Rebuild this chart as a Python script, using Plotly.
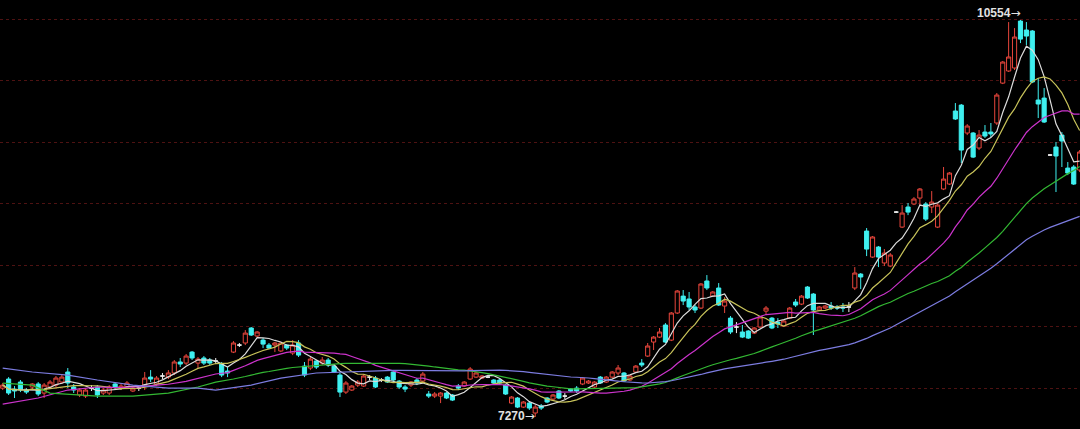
import plotly.graph_objects as go
import pandas as pd

opens = [7509,7584,7501,7559,7493,7518,7543,7468,7518,7534,7559,7642,7518,7452,7443,7509,7518,7468,7468,7543,
         7509,7518,7485,7509,7534,7600,7543,7609,7600,7634,7725,7716,7807,7716,7758,7741,7733,7708,7650,7807,
         7865,7882,8006,7940,7906,7865,7865,7816,7865,7799,7882,7691,7675,7733,7716,7741,7691,7617,7476,7493,
         7534,7526,7600,7592,7576,7600,7642,7567,7518,7534,7576,7567,7460,7443,7443,7468,7452,7526,7526,7584,
         7600,7592,7600,7576,7576,7534,7385,7427,7352,7385,7303,7361,7427,7418,7485,7443,7501,7509,7543,7551,
         7518,7600,7559,7600,7634,7634,7576,7642,7716,7774,7890,7931,8031,7906,8130,8270,8246,8180,8171,8395,
         8270,8337,8188,8088,8014,7973,7981,7964,8014,8146,8088,8055,8022,8088,8221,8204,8345,8287,8155,8171,
         8188,8180,8180,8180,8337,8452,8808,8593,8676,8544,8519,8965,8841,9007,9032,9081,9032,9007,8841,9156,
         9197,9801,9850,9619,9619,9495,9627,9627,9702,10032,10132,10157,10545,10471,10463,9892,9908,9437,9503,9602,
         9329,9338,9313]
highs = [7551,7600,7526,7576,7509,7551,7559,7551,7576,7609,7625,7675,7543,7509,7509,7534,7534,7509,7534,7551,
         7543,7567,7518,7526,7642,7658,7609,7634,7658,7741,7758,7791,7816,7766,7774,7758,7758,7725,7683,7898,
         7882,7989,8014,7981,7923,7882,7890,7890,7873,7906,7906,7725,7766,7741,7766,7758,7708,7634,7567,7534,
         7576,7625,7617,7609,7592,7609,7650,7576,7534,7567,7592,7642,7485,7476,7476,7476,7460,7543,7567,7683,
         7642,7617,7609,7584,7592,7543,7443,7435,7402,7394,7369,7377,7435,7460,7493,7468,7509,7526,7600,7576,
         7567,7609,7609,7650,7700,7642,7617,7700,7749,7882,7940,8006,8047,8138,8320,8320,8304,8196,8378,8444,
         8312,8378,8262,8105,8055,8031,7989,8014,8105,8188,8097,8088,8072,8180,8246,8279,8353,8295,8188,8196,
         8221,8196,8213,8221,8510,8461,8833,8767,8684,8659,8626,8974,9023,9040,9089,9164,9048,9139,9032,9338,
         9296,9867,9859,9693,9627,9644,9685,9702,9950,10215,10537,10487,10554,10537,10471,10074,9991,9445,9545,9627,
         9379,9354,9478]
lows = [7493,7452,7427,7476,7460,7501,7443,7427,7501,7518,7543,7509,7468,7435,7427,7485,7427,7452,7452,7501,
        7493,7501,7476,7485,7493,7559,7526,7584,7584,7617,7683,7700,7741,7675,7700,7700,7708,7600,7600,7799,
        7849,7865,7940,7931,7840,7832,7807,7807,7824,7782,7766,7600,7658,7667,7700,7683,7634,7435,7460,7485,
        7518,7518,7576,7509,7559,7551,7559,7501,7476,7518,7534,7559,7427,7427,7385,7418,7402,7493,7518,7576,
        7592,7584,7592,7543,7543,7452,7377,7344,7344,7328,7270,7328,7385,7410,7418,7418,7476,7468,7534,7543,
        7509,7543,7551,7592,7617,7559,7567,7634,7683,7766,7824,7923,7882,7898,8122,8196,8155,8130,8163,8320,
        8262,8188,8130,7956,7964,7923,7915,7956,8006,8113,7997,8006,8014,8080,8180,8196,8246,7948,8146,8163,
        8155,8155,8138,8138,8320,8328,8601,8585,8510,8519,8510,8957,8833,8940,9023,9023,8891,8957,8833,9147,
        9189,9727,9371,9602,9412,9478,9578,9586,9685,10024,10124,10140,10363,10347,10032,9743,9702,9429,9131,9338,
        9271,9189,9296]
closes = [7534,7468,7485,7493,7476,7543,7460,7534,7559,7592,7600,7551,7493,7493,7493,7509,7452,7493,7518,7518,
          7526,7551,7509,7509,7592,7584,7592,7609,7634,7725,7708,7774,7758,7749,7716,7716,7733,7617,7634,7882,
          7865,7964,7948,7973,7873,7840,7882,7882,7840,7865,7782,7617,7749,7683,7741,7700,7642,7476,7551,7526,
          7559,7609,7600,7518,7576,7559,7576,7518,7501,7559,7551,7625,7443,7460,7468,7427,7410,7509,7559,7667,
          7634,7609,7600,7551,7551,7460,7435,7352,7394,7344,7352,7344,7394,7452,7427,7443,7485,7485,7592,7567,
          7559,7551,7600,7642,7675,7567,7609,7691,7700,7857,7931,7973,7890,8130,8312,8229,8180,8155,8370,8337,
          8304,8196,8229,7973,8014,7931,7923,8006,8097,8171,8006,8039,8064,8171,8196,8270,8254,8155,8180,8188,
          8171,8171,8171,8180,8461,8428,8659,8759,8593,8626,8610,8965,8957,8965,9073,9156,8907,9048,9023,9238,
          9288,9735,9478,9677,9420,9602,9594,9611,9933,10206,10248,10413,10396,10421,10041,9859,9710,9437,9429,9553,
          9288,9197,9462]

# moving-average values read off the picture where the full window is not visible
ma20_head_idx = [0, 6, 11, 16]
ma20_head_val = [7377, 7427, 7493, 7518]
ma40_head_idx = [0, 5, 8, 16, 22, 28, 33, 36]
ma40_head_val = [7551, 7534, 7468, 7443, 7443, 7468, 7518, 7559]
ma60_head_idx = [0, 5, 11, 16, 22, 28, 33, 36, 42, 47, 53]
ma60_head_val = [7675, 7642, 7617, 7576, 7534, 7509, 7509, 7493, 7534, 7592, 7634]

ma_names = ["MA5", "MA10", "MA20", "MA40", "MA60"]
ma_colors = ["#dcdcdc", "#c8c35a", "#cc33cc", "#33b833", "#7c7ce0"]

RED = "#e8463c"
CYAN = "#3ff0f0"
DOJI = "#f0f0f0"

n = len(closes)
idx = list(range(n))
s = pd.Series(closes, dtype=float)


def sub(arr, sel):
    return [arr[i] for i in sel]


def candles(sel, inc_color, inc_fill, dec_color, dec_fill):
    return go.Candlestick(
        x=sel, open=sub(opens, sel), high=sub(highs, sel), low=sub(lows, sel), close=sub(closes, sel),
        increasing=dict(line=dict(color=inc_color, width=1), fillcolor=inc_fill),
        decreasing=dict(line=dict(color=dec_color, width=1), fillcolor=dec_fill),
        whiskerwidth=0, showlegend=False, hoverinfo="skip")


up = [i for i in idx if closes[i] > opens[i]]
dn = [i for i in idx if closes[i] < opens[i]]
dj = [i for i in idx if closes[i] == opens[i]]

fig = go.Figure()
fig.add_trace(candles(up, RED, "#000000", RED, "#000000"))
fig.add_trace(candles(dn, CYAN, CYAN, CYAN, CYAN))
fig.add_trace(candles(dj, DOJI, DOJI, DOJI, DOJI))

ma5 = s.rolling(5, min_periods=1).mean().tolist()
ma10 = s.rolling(10, min_periods=1).mean().tolist()


def ma_with_head(win, head_idx, head_val):
    full = s.rolling(win).mean().tolist()
    return head_idx + list(range(win - 1, n)), head_val + full[win - 1:]


lines = [(idx, ma5), (idx, ma10),
         ma_with_head(20, ma20_head_idx, ma20_head_val),
         ma_with_head(40, ma40_head_idx, ma40_head_val),
         ma_with_head(60, ma60_head_idx, ma60_head_val)]

for (xs, ys), name, col in zip(lines, ma_names, ma_colors):
    fig.add_trace(go.Scatter(x=xs, y=ys, mode="lines", name=name,
                             line=dict(color=col, width=1.2), hoverinfo="skip", showlegend=False))

# extreme labels
hi_i = max(idx, key=lambda i: highs[i])
lo_i = min(idx, key=lambda i: lows[i])
lab_font = dict(family="Arial, Liberation Sans, sans-serif", size=12, color="#e2e2e2")
ARROW = '<span style="font-family:DejaVu Sans;font-weight:normal">→</span>'
fig.add_annotation(x=hi_i, y=highs[hi_i], text=f"<b>{highs[hi_i]}</b>{ARROW}", showarrow=False,
                   xanchor="right", yanchor="middle", xshift=2, yshift=7, font=lab_font)
fig.add_annotation(x=lo_i, y=lows[lo_i], text=f"<b>{lows[lo_i]}</b>{ARROW}", showarrow=False,
                   xanchor="right", yanchor="middle", xshift=2, yshift=1, font=lab_font)

# legend row at the very top (clipped by the top edge, as in the source)
leg_x = [-20, 42, 105, 170, 232]
for (xs, ys), name, col, lx in zip(lines, ma_names, ma_colors, leg_x):
    fig.add_annotation(xref="paper", yref="paper", x=lx / 1080, y=1, xanchor="left", yanchor="bottom",
                       yshift=-4, showarrow=False, text=f"{name}:{ys[-1]:.1f}",
                       font=dict(family="Arial, Liberation Sans, sans-serif", size=10, color=col))

Y_MIN, Y_MAX = 7170.7, 10719.4
GRID_TOP, GRID_STEP, GRID_N = 10562, 508.7, 7
grid_vals = [GRID_TOP - GRID_STEP * k for k in range(GRID_N)]

fig.update_layout(
    width=1080, height=429, margin=dict(l=0, r=0, t=0, b=0),
    paper_bgcolor="#000000", plot_bgcolor="#000000", showlegend=False,
    boxgap=0.3, boxgroupgap=0, hovermode=False,
    xaxis=dict(range=[-0.456, 182.06], showgrid=False, zeroline=False, showticklabels=False,
               showline=False, rangeslider=dict(visible=False), ticks="", fixedrange=True),
    yaxis=dict(range=[Y_MIN, Y_MAX], tickvals=grid_vals, showticklabels=False, showgrid=True,
               gridcolor="#4e1212", griddash="dot", gridwidth=1, zeroline=False, showline=False, ticks="",
               fixedrange=True),
)

fig.write_html("out.html", config={"displayModeBar": False, "staticPlot": True},
               post_script="document.body.style.margin='0';document.body.style.background='#000';")
